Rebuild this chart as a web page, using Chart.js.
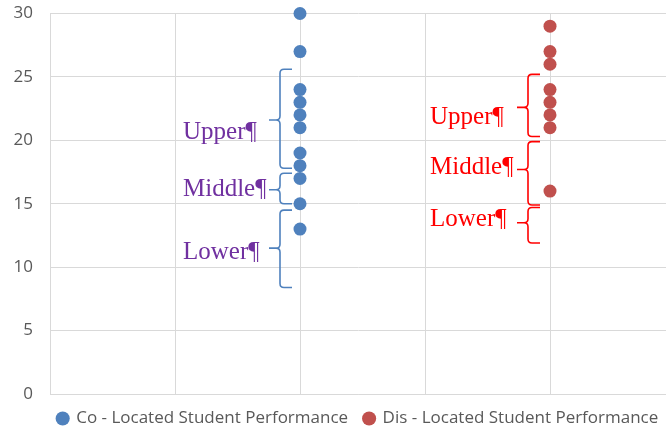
<!DOCTYPE html>
<html>
<head>
<meta charset="utf-8">
<script src="https://cdn.jsdelivr.net/npm/chart.js@4/dist/chart.umd.min.js"></script>
<style>
  html, body { margin: 0; padding: 0; background: #ffffff; overflow: hidden; }
  #wrap { width: 666px; height: 432px; position: relative; }
</style>
</head>
<body>
<div id="wrap"><canvas id="c" width="666" height="432"></canvas></div>
<script>
// Scores per group
const coLabel = 'Co - Located Student Performance';
const disLabel = 'Dis - Located Student Performance';
const coX = 2;
const disX = 4;
const coScores = [30, 27, 24, 23, 22, 21, 19, 18, 17, 15, 13];
const disScores = [29, 27, 26, 24, 23, 22, 21, 16];
const yTicks = [0, 5, 10, 15, 20, 25, 30];

// Band labels and their brace ranges: [top, tip, bottom] in score units
const bandNames = ['Upper¶', 'Middle¶', 'Lower¶'];
const coBandY = [20.6, 16.1, 11.2];
const coBraces = [[25.6, 21.6, 17.8], [17.4, 16.1, 15.0], [14.5, 11.5, 8.4]];
const disBandY = [21.8, 17.9, 13.8];
const disBraces = [[25.2, 22.6, 20.3], [19.9, 17.7, 14.9], [14.7, 13.5, 11.9]];
const coBraceX = 1.84, coTextX = 1.064;
const disBraceX = 3.824, disTextX = 3.04;

const blue = '#4F81BD';
const red = '#C0504D';
const gridColor = '#D9D9D9';
const uiFont = '"Open Sans", "Liberation Sans", Arial, sans-serif';

function drawBrace(ctx, x, yTop, yTip, yBot, color) {
  const hook = 12, tip = 11, r = 4;
  ctx.save();
  ctx.strokeStyle = color;
  ctx.lineWidth = 1.6;
  ctx.beginPath();
  ctx.moveTo(x + hook, yTop);
  ctx.lineTo(x + r, yTop);
  ctx.quadraticCurveTo(x, yTop, x, yTop + r);
  ctx.lineTo(x, yTip - r);
  ctx.quadraticCurveTo(x, yTip, x - r, yTip);
  ctx.lineTo(x - tip, yTip);
  ctx.moveTo(x - r, yTip);
  ctx.quadraticCurveTo(x, yTip, x, yTip + r);
  ctx.lineTo(x, yBot - r);
  ctx.quadraticCurveTo(x, yBot, x + r, yBot);
  ctx.lineTo(x + hook, yBot);
  ctx.stroke();
  ctx.restore();
}

const bandPlugin = {
  id: 'bands',
  afterLayout(chart) {
    // centre the legend under the plot area rather than the whole canvas
    const lg = chart.legend;
    if (lg) {
      const shift = (chart.chartArea.left + chart.chartArea.right) / 2 - (lg.left + lg.right) / 2;
      lg.left += shift;
      lg.right += shift;
    }
  },
  afterDatasetsDraw(chart) {
    const ctx = chart.ctx;
    const xs = chart.scales.x, ys = chart.scales.y;
    const groups = [
      { bx: coBraceX, tx: coTextX, braces: coBraces, ly: coBandY, brace: blue, text: '#7030A0' },
      { bx: disBraceX, tx: disTextX, braces: disBraces, ly: disBandY, brace: '#FF0000', text: '#FF0000' }
    ];
    groups.forEach(g => {
      const px = xs.getPixelForValue(g.bx);
      g.braces.forEach(b => {
        drawBrace(ctx, px, ys.getPixelForValue(b[0]), ys.getPixelForValue(b[1]), ys.getPixelForValue(b[2]), g.brace);
      });
      ctx.save();
      ctx.fillStyle = g.text;
      ctx.font = '25px "Liberation Serif", "Times New Roman", serif';
      ctx.textAlign = 'left';
      ctx.textBaseline = 'middle';
      bandNames.forEach((name, i) => {
        ctx.fillText(name, xs.getPixelForValue(g.tx), ys.getPixelForValue(g.ly[i]));
      });
      ctx.restore();
    });
  }
};

new Chart(document.getElementById('c'), {
  type: 'scatter',
  data: {
    datasets: [
      {
        label: coLabel,
        data: coScores.map(v => ({ x: coX, y: v })),
        backgroundColor: blue,
        borderColor: blue,
        borderWidth: 0,
        pointRadius: 6.5,
        pointHoverRadius: 6.5,
        clip: false
      },
      {
        label: disLabel,
        data: disScores.map(v => ({ x: disX, y: v })),
        backgroundColor: red,
        borderColor: red,
        borderWidth: 0,
        pointRadius: 6.5,
        pointHoverRadius: 6.5,
        clip: false
      }
    ]
  },
  options: {
    responsive: false,
    animation: false,
    layout: { autoPadding: false, padding: { top: 13.5, right: 0, left: 0, bottom: -5 } },
    plugins: {
      tooltip: { enabled: false },
      legend: {
        position: 'bottom',
        labels: {
          usePointStyle: true,
          pointStyle: 'circle',
          boxWidth: 10,
          boxHeight: 10,
          padding: 16,
          color: '#595959',
          font: { family: uiFont, size: 17 }
        }
      }
    },
    scales: {
      x: {
        type: 'linear',
        min: 0,
        max: 4.928,
        afterBuildTicks(scale) {
          scale.ticks = [0, 1, 2, 3, 4].map(v => ({ value: v }));
        },
        afterFit(scale) {
          scale.height = 0;
          scale.paddingLeft = 0;
          scale.paddingRight = 0;
        },
        ticks: { display: false },
        grid: { color: gridColor, lineWidth: 1, drawTicks: false },
        border: { color: gridColor }
      },
      y: {
        min: 0,
        max: 30,
        afterBuildTicks(scale) {
          scale.ticks = yTicks.map(v => ({ value: v }));
        },
        afterFit(scale) {
          scale.width = 50;
          scale.paddingTop = 0;
          scale.paddingBottom = 0;
        },
        ticks: {
          color: '#595959',
          padding: 17,
          font: { family: uiFont, size: 17 }
        },
        grid: { color: gridColor, lineWidth: 1, drawTicks: false },
        border: { color: gridColor }
      }
    }
  },
  plugins: [bandPlugin]
});
</script>
</body>
</html>
